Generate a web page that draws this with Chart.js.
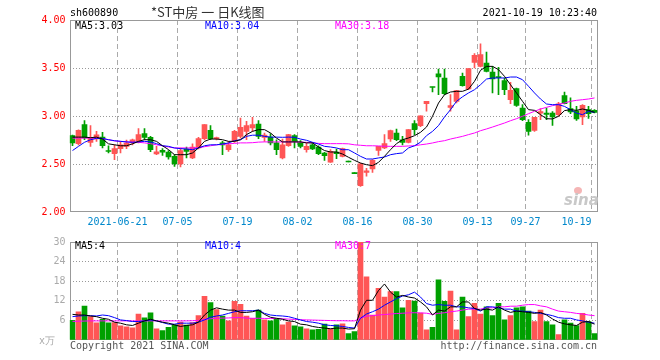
<!DOCTYPE html>
<html><head><meta charset="utf-8">
<script src="https://cdn.jsdelivr.net/npm/chart.js@4.4.0/dist/chart.umd.min.js"></script>
<style>
html,body{margin:0;padding:0;background:#fff;}
#wrap{position:relative;width:660px;height:360px;overflow:hidden;background:#fff;}
canvas{position:absolute;left:0;}
.t{position:absolute;font-family:"DejaVu Sans Mono",monospace;font-size:10px;line-height:10px;white-space:nowrap;}
</style></head><body>
<div id="wrap">
<canvas id="k" width="660" height="232" style="top:0"></canvas>
<canvas id="v" width="660" height="128" style="top:232px"></canvas>
<div class="t" style="left:70px;top:8px;color:#000">sh600890</div>
<div style="position:absolute;left:151px;top:5px;font-family:'Noto Sans CJK SC',sans-serif;font-size:13px;line-height:14px;color:#333;white-space:nowrap">*ST中房 一 日K线图</div>
<div class="t" style="right:63px;top:8px;color:#000">2021-10-19 10:23:40</div>
<div class="t" style="left:75px;top:21px;color:#000">MA5:3.03</div>
<div class="t" style="left:205px;top:21px;color:#0000ff">MA10:3.04</div>
<div class="t" style="left:335px;top:21px;color:#ff00ff">MA30:3.18</div>
<div class="t" style="left:75px;top:241px;color:#000">MA5:4</div>
<div class="t" style="left:205px;top:241px;color:#0000ff">MA10:4</div>
<div class="t" style="left:335px;top:241px;color:#ff00ff">MA30:7</div>
<div class="t" style="left:39px;top:336px;color:#aaa">x万</div>
<div class="t" style="left:70px;top:341px;color:#555">Copyright 2021 SINA.COM</div>
<div class="t" style="right:63px;top:341px;color:#555">http://finance.sina.com.cn</div>
<div style="position:absolute;left:574px;top:187px;width:8px;height:7px;border-radius:50%;background:#f5b5b5"></div>
<div style="position:absolute;left:564px;top:193px;font-family:'DejaVu Sans',sans-serif;font-weight:bold;font-style:italic;font-size:15px;line-height:15px;color:#c8c8c8">sina</div>
</div>
<script>
const dates = ['06-08','06-09','06-10','06-11','06-15','06-16','06-17','06-18',
'06-21','06-22','06-23','06-24','06-25','06-28','06-29','06-30','07-01','07-02',
'07-05','07-06','07-07','07-08','07-09','07-12','07-13','07-14','07-15','07-16',
'07-19','07-20','07-21','07-22','07-23','07-26','07-27','07-28','07-29','07-30',
'08-02','08-03','08-04','08-05','08-06','08-09','08-10','08-11','08-12','08-13',
'08-16','08-17','08-18','08-19','08-20','08-23','08-24','08-25','08-26','08-27',
'08-30','08-31','09-01','09-02','09-03','09-06','09-07','09-08','09-09','09-10',
'09-13','09-14','09-15','09-16','09-17','09-22','09-23','09-24',
'09-27','09-28','09-29','09-30','10-08','10-11','10-12','10-13','10-14','10-15','10-18','10-19'];

const tickIndex = [8,18,28,38,48,58,68,76,87];
const tickText = ['2021-06-21','07-05','07-19','08-02','08-16','08-30','09-13','09-27','10-19'];

const open = [2.795,2.712,2.91,2.726,2.76,2.78,2.64,2.608,2.66,2.684,
2.719,2.736,2.816,2.778,2.604,2.642,2.625,2.58,2.50,2.656,
2.563,2.667,2.764,2.851,2.765,2.72,2.65,2.736,2.788,2.84,
2.875,2.917,2.778,2.78,2.72,2.563,2.69,2.795,2.72,2.649,
2.70,2.677,2.615,2.52,2.625,2.58,2.521,2.399,2.274,2.413,
2.448,2.642,2.667,2.76,2.823,2.753,2.726,2.92,2.90,3.128,
3.30,3.44,3.396,3.09,3.153,3.413,3.281,3.559,3.517,3.552,
3.458,3.406,3.368,3.17,3.285,3.083,2.934,2.851,3.03,3.03,
3.03,3.014,3.212,3.076,3.055,2.99,3.066,3.059];
const high = [2.80,2.855,2.951,2.899,2.84,2.83,2.69,2.70,2.736,2.75,
2.76,2.868,2.868,2.788,2.684,2.66,2.64,2.597,2.667,2.677,
2.71,2.778,2.91,2.899,2.78,2.736,2.736,2.851,2.979,2.944,
2.986,2.951,2.823,2.816,2.753,2.76,2.81,2.806,2.743,2.72,
2.719,2.69,2.622,2.649,2.656,2.667,2.521,2.399,2.51,2.455,
2.545,2.684,2.806,2.854,2.865,2.788,2.858,2.951,3.003,3.153,
3.30,3.49,3.49,3.222,3.267,3.448,3.493,3.649,3.753,3.667,
3.517,3.507,3.396,3.35,3.292,3.118,2.962,2.986,3.076,3.083,
3.045,3.142,3.25,3.188,3.10,3.118,3.10,3.066];
const low = [2.69,2.70,2.753,2.684,2.736,2.667,2.615,2.545,2.615,2.66,
2.70,2.719,2.753,2.628,2.597,2.59,2.55,2.476,2.469,2.563,
2.556,2.656,2.753,2.753,2.75,2.597,2.632,2.726,2.77,2.753,
2.84,2.764,2.736,2.70,2.597,2.552,2.684,2.667,2.667,2.622,
2.649,2.597,2.538,2.517,2.556,2.573,2.521,2.399,2.267,2.372,
2.413,2.59,2.66,2.736,2.743,2.70,2.719,2.806,2.89,3.05,
3.25,3.222,3.222,3.05,3.136,3.31,3.274,3.50,3.51,3.458,
3.24,3.222,3.222,3.128,3.10,2.951,2.80,2.84,2.962,2.962,
2.903,2.997,3.125,3.024,2.955,2.91,2.976,3.031];
const close = [2.719,2.851,2.771,2.767,2.805,2.69,2.63,2.66,2.70,2.719,
2.753,2.806,2.778,2.649,2.628,2.622,2.573,2.50,2.64,2.632,
2.677,2.764,2.91,2.764,2.77,2.70,2.70,2.84,2.882,2.90,
2.91,2.788,2.80,2.72,2.65,2.70,2.806,2.736,2.684,2.684,
2.656,2.608,2.587,2.632,2.608,2.66,2.521,2.399,2.503,2.43,
2.538,2.684,2.712,2.847,2.753,2.726,2.858,2.858,3.003,3.153,
3.297,3.406,3.233,3.108,3.264,3.316,3.493,3.632,3.639,3.465,
3.385,3.40,3.274,3.267,3.111,2.962,2.84,2.986,3.045,3.017,
2.99,3.128,3.128,3.042,2.969,3.11,3.024,3.038];

const ma5 = [2.78,2.78,2.78,2.774,2.78,2.76,2.71,2.70,2.69,2.69,
2.71,2.736,2.753,2.753,2.736,2.69,2.65,2.597,2.597,2.597,
2.615,2.667,2.736,2.76,2.76,2.753,2.736,2.736,2.753,2.806,
2.84,2.858,2.858,2.823,2.77,2.73,2.73,2.73,2.73,2.72,
2.72,2.677,2.64,2.625,2.625,2.604,2.57,2.538,2.51,2.493,
2.483,2.517,2.58,2.649,2.712,2.753,2.771,2.795,2.83,2.885,
2.997,3.135,3.222,3.25,3.257,3.257,3.28,3.361,3.476,3.517,
3.517,3.483,3.413,3.326,3.24,3.153,3.066,3.059,3.014,2.972,
2.969,2.997,3.056,3.066,3.059,3.073,3.059,3.038];
const ma10 = [2.64,2.684,2.726,2.753,2.767,2.767,2.753,2.743,2.736,2.73,
2.726,2.73,2.736,2.73,2.712,2.69,2.684,2.667,2.66,2.656,
2.649,2.667,2.69,2.70,2.70,2.708,2.719,2.743,2.753,2.788,
2.80,2.80,2.788,2.78,2.78,2.778,2.78,2.778,2.76,2.747,
2.726,2.708,2.684,2.677,2.667,2.649,2.649,2.615,2.58,2.552,
2.552,2.563,2.573,2.597,2.608,2.615,2.667,2.69,2.727,2.795,
2.84,2.90,2.99,3.066,3.153,3.20,3.24,3.274,3.326,3.385,
3.396,3.396,3.396,3.406,3.406,3.378,3.31,3.24,3.177,3.125,
3.118,3.118,3.10,3.066,3.03,3.014,3.049,3.038];
const ma30 = [2.77,2.77,2.77,2.77,2.77,2.764,2.753,2.74,2.736,2.73,
2.728,2.726,2.72,2.712,2.70,2.69,2.677,2.667,2.667,2.667,
2.667,2.67,2.68,2.69,2.70,2.705,2.71,2.715,2.72,2.72,
2.722,2.728,2.73,2.73,2.73,2.73,2.73,2.73,2.728,2.725,
2.72,2.715,2.712,2.712,2.712,2.712,2.71,2.70,2.695,2.69,
2.69,2.688,2.685,2.684,2.684,2.684,2.688,2.69,2.70,2.708,
2.719,2.733,2.743,2.76,2.774,2.788,2.806,2.823,2.847,2.865,
2.885,2.906,2.927,2.951,2.972,2.997,3.024,3.049,3.073,3.09,
3.108,3.122,3.135,3.153,3.163,3.17,3.177,3.188];

const volume = [6.0,8.65,10.35,7.15,5.25,6.35,5.25,5.35,4.35,4.05,
3.75,7.95,6.75,8.35,3.45,2.85,3.85,4.65,5.45,4.55,
5.35,7.45,13.35,11.45,9.35,7.35,5.85,11.85,10.95,7.35,
6.65,9.15,6.15,5.85,6.45,4.65,5.45,4.35,4.05,3.45,
3.15,3.25,4.85,3.35,4.65,4.95,1.95,2.55,29.95,19.35,
7.6,15.85,13.15,14.85,14.85,9.85,12.15,11.95,8.25,3.15,
3.85,18.45,11.85,14.95,3.15,13.15,7.15,11.25,7.95,10.15,
7.45,11.25,6.15,7.45,9.85,10.15,8.85,5.65,9.15,5.65,
4.65,1.65,6.15,5.15,4.45,8.15,5.65,1.95];
const vma5 = [7.85,7.65,7.65,7.35,7.15,6.65,6.35,5.45,5.15,4.65,
4.45,5.15,5.85,6.35,5.85,5.45,5.15,4.65,4.15,4.45,
4.65,5.45,7.65,9.15,9.85,9.45,9.15,9.15,8.45,8.45,
8.65,9.15,7.85,6.95,6.65,6.35,5.85,5.65,4.85,4.65,
4.15,3.85,3.65,3.45,3.65,3.65,3.35,3.45,9.15,12.15,
12.15,15.15,17.15,14.65,13.15,13.65,13.15,12.85,11.65,10.15,
7.65,9.15,8.85,10.15,10.15,11.65,11.65,9.65,9.15,9.45,
9.15,10.15,9.15,8.45,8.85,8.65,8.45,8.15,8.45,7.65,
6.45,5.45,4.95,4.65,4.45,5.45,5.65,4.85];
const vma10 = [7.15,7.35,7.45,7.45,7.35,7.65,7.45,6.85,6.15,5.95,
5.65,5.65,5.85,6.15,5.85,5.35,4.85,4.85,5.15,5.15,
5.15,5.45,6.15,6.95,7.35,7.65,8.15,8.65,8.95,8.95,
8.95,9.15,8.15,7.65,7.45,7.35,7.15,6.65,6.15,5.65,
5.45,5.15,4.65,4.45,4.35,4.15,3.85,3.65,6.65,7.95,
8.65,9.45,10.65,11.65,12.65,13.45,13.85,14.65,13.15,11.15,
10.65,10.85,10.65,10.65,10.15,10.15,9.85,9.65,8.85,10.15,
10.15,9.85,9.45,9.45,8.85,8.85,8.65,8.45,8.15,7.85,
7.45,6.85,6.65,6.65,6.15,5.85,5.45,5.15];
const vma30 = [5.7,5.75,5.8,5.85,5.85,5.85,5.85,5.85,5.85,5.85,
5.85,5.85,5.85,5.85,5.85,5.85,5.85,5.85,5.85,5.85,
5.9,6.0,6.3,6.5,6.65,6.7,6.75,6.85,6.85,6.7,
6.65,6.65,6.6,6.6,6.55,6.5,6.4,6.3,6.2,6.15,
6.1,6.05,6.0,5.95,5.9,5.9,5.85,5.85,6.7,7.3,
7.45,7.65,7.8,7.95,8.1,8.2,8.3,8.35,8.3,8.2,
7.85,8.15,8.35,8.65,8.85,9.15,9.45,9.45,9.45,9.85,
9.85,10.15,10.15,10.35,10.35,10.65,10.85,10.85,10.45,10.15,
9.45,8.85,8.65,8.45,8.15,7.95,7.65,7.45];

const RED = '#ff5555', GREEN = '#00a000';
const candleColor = close.map((c, i) => c > open[i] ? RED : (c < open[i] ? GREEN : (i > 0 && c < close[i-1] ? GREEN : RED)));
const bodies = open.map((o, i) => [o, close[i]]);
const wicks = low.map((l, i) => [l, high[i]]);

const MONO = 'DejaVu Sans Mono';
const frame = {id:'frame', beforeDatasetsDraw(chart){
  const a = chart.chartArea, c = chart.ctx;
  c.save(); c.strokeStyle = '#999'; c.lineWidth = 1;
  const l = Math.round(a.left)+0.5, t = Math.round(a.top)+0.5, r = Math.round(a.right)-0.5, b = Math.round(a.bottom)-0.5;
  c.strokeRect(l, t, r-l, b-t); c.restore();
}};
const vGridColor = ctx => tickIndex.includes(ctx.index) ? '#aaa' : 'rgba(0,0,0,0)';
const lineDs = (d, col) => ({type:'line', data:d, borderColor:col, borderWidth:1, pointRadius:0, tension:0, order:0, fill:false});

Chart.defaults.font.family = MONO;
Chart.defaults.font.size = 10;

new Chart(document.getElementById('k'), {
  type:'bar',
  data:{labels:dates, datasets:[
    lineDs(ma5,'#000000'), lineDs(ma10,'#0000ff'), lineDs(ma30,'#ff00ff'),
    {data:bodies, backgroundColor:candleColor, barThickness:5, minBarLength:1, grouped:false, order:1},
    {data:wicks, backgroundColor:candleColor, barThickness:1, minBarLength:1, grouped:false, order:2}
  ]},
  options:{
    responsive:false, animation:false, devicePixelRatio:1,
    layout:{padding:{left:0, right:62.5, top:20, bottom:0}},
    plugins:{legend:{display:false}, tooltip:{enabled:false}},
    scales:{
      x:{offset:true, grid:{offset:true, color:vGridColor, drawTicks:false}, border:{display:false, dash:[5,3]},
         ticks:{autoSkip:false, maxRotation:0, minRotation:0, align:'inner', labelOffset:-3, padding:4, color:'#0088cc',
           font:{family:MONO, size:10}, callback:(v,i)=>{const j = tickIndex.indexOf(i); return j>=0 ? tickText[j] : '';}},
         afterFit:s=>{s.height = 20;}},
      y:{min:2, max:4, grid:{drawTicks:false, color:ctx=> (ctx.tick && ctx.tick.value>2.01 && ctx.tick.value<3.99) ? '#999' : 'rgba(0,0,0,0)'},
         border:{display:false, dash:[1,2]},
         ticks:{stepSize:0.5, padding:4, color:'#ff0000', font:{family:MONO, size:10}, callback:v=>Number(v).toFixed(2)},
         afterFit:s=>{s.width = 69.5;}}
    }
  },
  plugins:[frame]
});

new Chart(document.getElementById('v'), {
  type:'bar',
  data:{labels:dates, datasets:[
    lineDs(vma5,'#000000'), lineDs(vma10,'#0000ff'), lineDs(vma30,'#ff00ff'),
    {data:volume, backgroundColor:candleColor, barThickness:5, grouped:false, order:1}
  ]},
  options:{
    responsive:false, animation:false, devicePixelRatio:1,
    layout:{padding:{left:0, right:62.5, top:8, bottom:0}},
    plugins:{legend:{display:false}, tooltip:{enabled:false}},
    scales:{
      x:{offset:true, grid:{offset:true, color:vGridColor, drawTicks:false}, border:{display:false, dash:[5,3]},
         ticks:{display:false}, afterFit:s=>{s.height = 20;}},
      y:{min:0, max:30, grid:{drawTicks:false, color:ctx=> (ctx.tick && ctx.tick.value>0 && ctx.tick.value<30) ? '#999' : 'rgba(0,0,0,0)'},
         border:{display:false, dash:[1,2]},
         ticks:{stepSize:6, padding:4, color:'#aaaaaa', font:{family:MONO, size:10}, callback:v=> v===0 ? '' : String(v)},
         afterFit:s=>{s.width = 69.5;}}
    }
  },
  plugins:[frame]
});
</script>
</body></html>
